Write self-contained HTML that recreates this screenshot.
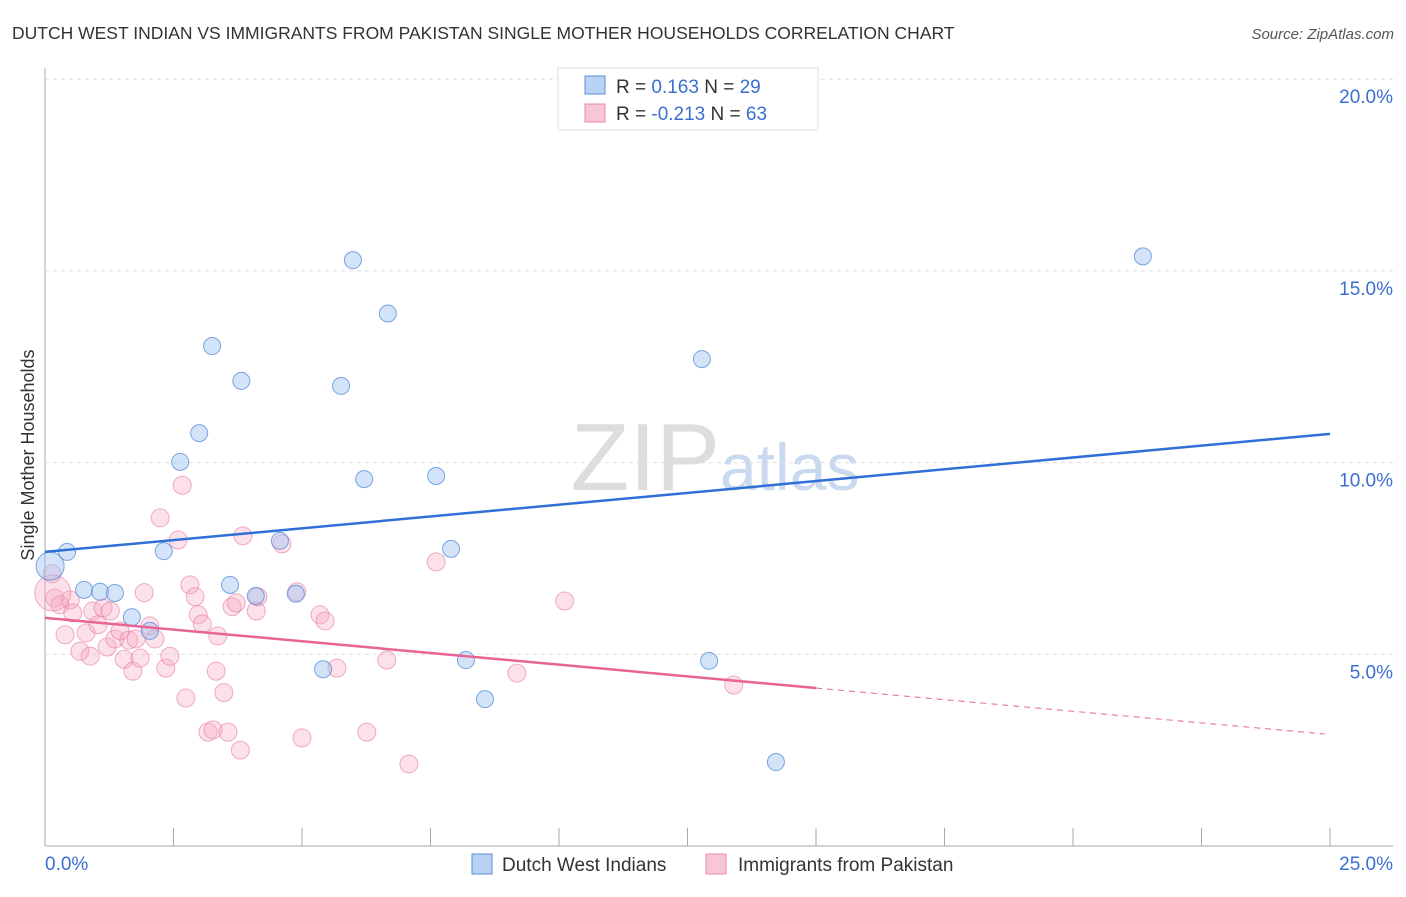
<!DOCTYPE html>
<html><head><meta charset="utf-8"><style>
body{margin:0;background:#fff;font-family:"Liberation Sans",sans-serif}
svg text{font-family:"Liberation Sans",sans-serif}
</style></head><body>
<svg id="c" width="1406" height="892" xmlns="http://www.w3.org/2000/svg">
<text x="12" y="39" font-size="17.5" fill="#333">DUTCH WEST INDIAN VS IMMIGRANTS FROM PAKISTAN SINGLE MOTHER HOUSEHOLDS CORRELATION CHART</text>
<text x="1394" y="39" font-size="15" fill="#555" font-style="italic" text-anchor="end">Source: ZipAtlas.com</text>
<text x="720" y="490" font-size="96" fill="#ddd" text-anchor="end" font-family="Liberation Serif">ZIP</text>
<text x="720" y="490" font-size="66" fill="#c9d9ef">atlas</text>
<text transform="translate(34,455) rotate(-90)" font-size="18" fill="#333" text-anchor="middle">Single Mother Households</text>
<g id="grid"></g><g id="pts"></g><g id="lines"></g>
<g>
<rect x="558" y="68" width="260" height="62" fill="#fff" stroke="#ddd"/>
<rect x="585" y="76" width="20" height="18" fill="#b9d3f5" stroke="#5b8fd8"/>
<rect x="585" y="104" width="20" height="18" fill="#f9c6d6" stroke="#e88aab"/>
<text x="616" y="93" font-size="19" fill="#333">R = <tspan fill="#3a6fd0">  0.163</tspan>    N = <tspan fill="#3a6fd0">29</tspan></text>
<text x="616" y="120" font-size="19" fill="#333">R = <tspan fill="#3a6fd0">-0.213</tspan>    N = <tspan fill="#3a6fd0">63</tspan></text>
</g>
<g>
<rect x="472" y="854" width="20" height="20" fill="#b9d3f5" stroke="#5b8fd8"/>
<text x="502" y="871" font-size="19" fill="#333">Dutch West Indians</text>
<rect x="706" y="854" width="20" height="20" fill="#f9c6d6" stroke="#e88aab"/>
<text x="738" y="871" font-size="19" fill="#333">Immigrants from Pakistan</text>
</g>
</svg>
<script>
const yTicks=[5,10,15,20];
const xTickLabels=["0.0%","25.0%"];
const blueX=[0.43,0.76,1.07,1.36,1.69,2.04,2.31,3.0,2.63,3.25,3.82,3.6,4.1,4.57,4.88,5.41,5.76,5.99,6.21,6.67,7.61,7.9,8.19,8.56,12.78,12.92,14.22,21.36,0.1];
const blueY=[7.67,6.68,6.63,6.6,5.97,5.61,7.69,10.77,10.02,13.04,12.13,6.81,6.52,7.96,6.58,4.61,12.0,15.28,9.57,13.89,9.65,7.75,4.85,3.83,12.7,4.83,2.19,15.38,7.3];
const pinkX=[0.14,0.19,0.29,0.39,0.49,0.54,0.68,0.8,0.88,0.93,1.03,1.13,1.21,1.27,1.36,1.46,1.54,1.63,1.71,1.77,1.85,1.93,2.04,2.14,2.35,2.43,2.24,2.59,2.67,2.74,2.82,2.92,2.98,3.06,3.17,3.27,3.36,3.33,3.48,3.56,3.64,3.72,3.8,3.85,4.11,4.14,4.61,4.9,5.0,5.35,5.45,5.68,6.26,6.65,7.08,7.61,9.18,10.11,13.4,0.15];
const pinkY=[7.1,6.47,6.29,5.51,6.42,6.08,5.08,5.56,4.95,6.13,5.77,6.21,5.19,6.13,5.4,5.61,4.87,5.37,4.56,5.4,4.9,6.61,5.74,5.4,4.64,4.95,8.56,7.98,9.41,3.86,6.81,6.5,6.03,5.79,2.97,3.03,5.48,4.56,4.0,2.97,6.24,6.34,2.5,8.09,6.13,6.5,7.88,6.63,2.82,6.03,5.87,4.64,2.97,4.85,2.14,7.41,4.51,6.39,4.2,6.6];
const blueLine=[[0,7.67],[25,10.75]];
const pinkLine=[[0,5.95],[15,4.12],[24.9,2.92]];
const X=v=>45+v*51.4, Y=v=>846-v*38.34;
const NS="http://www.w3.org/2000/svg";
function mk(t,a,p){const e=document.createElementNS(NS,t);for(const k in a)e.setAttribute(k,a[k]);p.appendChild(e);return e;}
const g=document.getElementById('grid');
const ax=mk('line',{x1:45,y1:68,x2:45,y2:846,stroke:'#aaa'},g);


const bx=mk('line',{x1:45,y1:846,x2:1393,y2:846,stroke:'#aaa'},g);


for(let i=0;i<=10;i++){const t=mk('line',{x1:X(i*2.5),y1:828,x2:X(i*2.5),y2:846,stroke:'#aaa'},g);

}
yTicks.forEach(v=>{const l=mk('line',{x1:45,y1:Y(v),x2:1393,y2:Y(v),stroke:'#ddd','stroke-dasharray':'4,4'},g);


const t=mk('text',{x:1393,y:Y(v)+24,'font-size':19,fill:'#3a6fd0','text-anchor':'end'},g);t.textContent=v.toFixed(1)+'%';

});
const xl0=mk('text',{x:45,y:870,'font-size':19,fill:'#3a6fd0'},g);xl0.textContent=xTickLabels[0];


const xl1=mk('text',{x:1393,y:870,'font-size':19,fill:'#3a6fd0','text-anchor':'end'},g);xl1.textContent=xTickLabels[1];


const p=document.getElementById('pts');
pinkX.forEach((x,i)=>{const c=mk('circle',{cx:X(x),cy:Y(pinkY[i]),r:i==pinkX.length-1?18:9,fill:'rgba(246,170,196,0.35)',stroke:'rgba(232,120,160,0.6)'},p);

});
blueX.forEach((x,i)=>{const c=mk('circle',{cx:X(x),cy:Y(blueY[i]),r:i==blueX.length-1?14:8.5,fill:'rgba(160,195,240,0.45)',stroke:'rgba(70,130,215,0.7)'},p);

});
const L=document.getElementById('lines');
const b=mk('line',{x1:X(blueLine[0][0]),y1:Y(blueLine[0][1]),x2:X(blueLine[1][0]),y2:Y(blueLine[1][1]),stroke:'#2f6fd6','stroke-width':2.5},L);


const pk=mk('line',{x1:X(pinkLine[0][0]),y1:Y(pinkLine[0][1]),x2:X(pinkLine[1][0]),y2:Y(pinkLine[1][1]),stroke:'#e86494','stroke-width':2.5},L);


const pd=mk('line',{x1:X(pinkLine[1][0]),y1:Y(pinkLine[1][1]),x2:X(pinkLine[2][0]),y2:Y(pinkLine[2][1]),stroke:'#e86494','stroke-width':1,'stroke-dasharray':'6,5'},L);


</script>
</body></html>
